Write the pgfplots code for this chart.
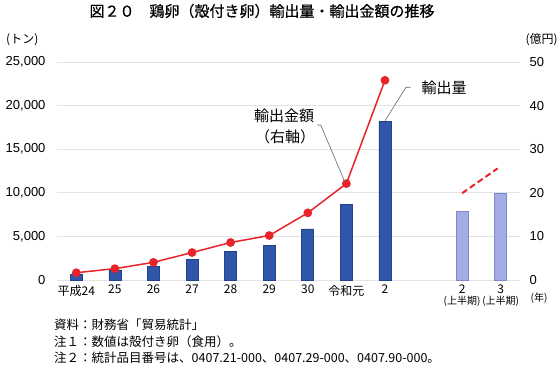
\documentclass[border=0pt]{standalone}
\usepackage{pgfplots}
\pgfplotsset{compat=1.18}
\usepackage{fontspec}
\setmainfont{Liberation Sans}
\newfontfamily\cjk{Noto Sans CJK JP}
\newfontface\cjkt{Noto Sans CJK JP}[FakeBold=0.6]
\definecolor{bardark}{HTML}{2F56A8}
\definecolor{bardarkedge}{HTML}{22428C}
\definecolor{barlight}{HTML}{A3ACE3}
\definecolor{barlightedge}{HTML}{7F88C9}
\definecolor{linered}{HTML}{E8242A}
\begin{document}
\begin{tikzpicture}[x=1pt,y=1pt]
\path[use as bounding box] (0,0) rectangle (558,366);
\begin{axis}[
  at={(57pt,86pt)}, anchor=south west,
  width=463pt, height=218pt, scale only axis,
  xmin=-0.5, xmax=11.5, ymin=0, ymax=25000,
  xtick={0,1,2,3,4,5,6,7,8,10,11},
  xticklabels={平成24,25,26,27,28,29,30,令和元,2,{2\\[-1pt]{\fontsize{10}{10}\selectfont (上半期)}},{3\\[-1pt]{\fontsize{10}{10}\selectfont (上半期)}}},
  x tick label style={font=\cjk\fontsize{12}{12}\selectfont, yshift=-1.5pt, align=center},
  ytick={0,5000,10000,15000,20000,25000},
  ymajorgrids, grid style={draw=gray!22, line width=0.9pt},
  axis line style={draw=none}, tick style={draw=none},
  yticklabel style={font=\fontsize{13}{13}\selectfont, xshift=-8pt},
  scaled y ticks=false,
  /pgf/number format/1000 sep={,},
  /pgf/number format/assume math mode=true,
  bar shift=0pt, bar width=12pt,
  clip=false,
]
\addplot[ybar, fill=bardark, draw=bardarkedge, line width=0.6pt] coordinates {(0,690)(1,1150)(2,1570)(3,2400)(4,3290)(5,3940)(6,5850)(7,8680)(8,18150)};
\addplot[ybar, fill=barlight, draw=barlightedge, line width=0.6pt] coordinates {(10,7880)(11,9940)};
\end{axis}
\begin{axis}[
  at={(57pt,86pt)}, anchor=south west,
  width=463pt, height=218pt, scale only axis,
  xmin=-0.5, xmax=11.5, ymin=0, ymax=50,
  axis y line*=right, hide x axis,
  axis line style={draw=none}, tick style={draw=none},
  ytick={0,10,20,30,40,50},
  yticklabel style={font=\fontsize{13}{13}\selectfont, anchor=west, xshift=6pt},
  /pgf/number format/assume math mode=true,
  clip=false,
]
\addplot[linered, line width=1.5pt, mark=*, mark size=3.6pt, mark options={fill=linered, draw=linered}] coordinates {(0,1.67)(1,2.6)(2,4.05)(3,6.3)(4,8.6)(5,10.2)(6,15.4)(7,22.1)(8,45.8)};
\addplot[linered, line width=2pt, dash pattern=on 6pt off 3.5pt] coordinates {(10,19.9)(10.92,25.6)};
\end{axis}
% leader lines
\draw[gray!80!black, line width=0.6pt] (385,245.3) -- (406,278.7) -- (410.7,278.7);
\draw[gray!80!black, line width=0.6pt] (317.3,241) -- (320.7,241) -- (345,183.7);
% texts
\node[font=\cjkt\fontsize{15}{15}\selectfont] at (262,355) {図２０　鶏卵（殻付き卵）輸出量・輸出金額の推移};
\node[font=\cjk\fontsize{12}{12}\selectfont, anchor=west, inner sep=0pt] at (6,326) {(トン)};
\node[font=\cjk\fontsize{12}{12}\selectfont, anchor=east, inner sep=0pt] at (558,326) {(億円)};
\node[font=\cjk\fontsize{15}{15}\selectfont] at (284,250.3) {輸出金額};
\node[font=\cjk\fontsize{15}{15}\selectfont] at (285,229.3) {（右軸）};
\node[font=\cjk\fontsize{15}{15}\selectfont] at (444,277.7) {輸出量};
\node[font=\cjk\fontsize{10}{10}\selectfont, inner sep=0pt] at (539,67.5) {(年)};
\node[font=\cjk\fontsize{12.5}{12.5}\selectfont, anchor=west, inner sep=0pt] at (54,41) {資料：財務省「貿易統計」};
\node[font=\cjk\fontsize{12.5}{12.5}\selectfont, anchor=west, inner sep=0pt] at (54,24) {注１：数値は殻付き卵（食用）。};
\node[font=\cjk\fontsize{12.5}{12.5}\selectfont, anchor=west, inner sep=0pt] at (54,8) {注２：統計品目番号は、0407.21-000、0407.29-000、0407.90-000。};
\end{tikzpicture}
\end{document}
